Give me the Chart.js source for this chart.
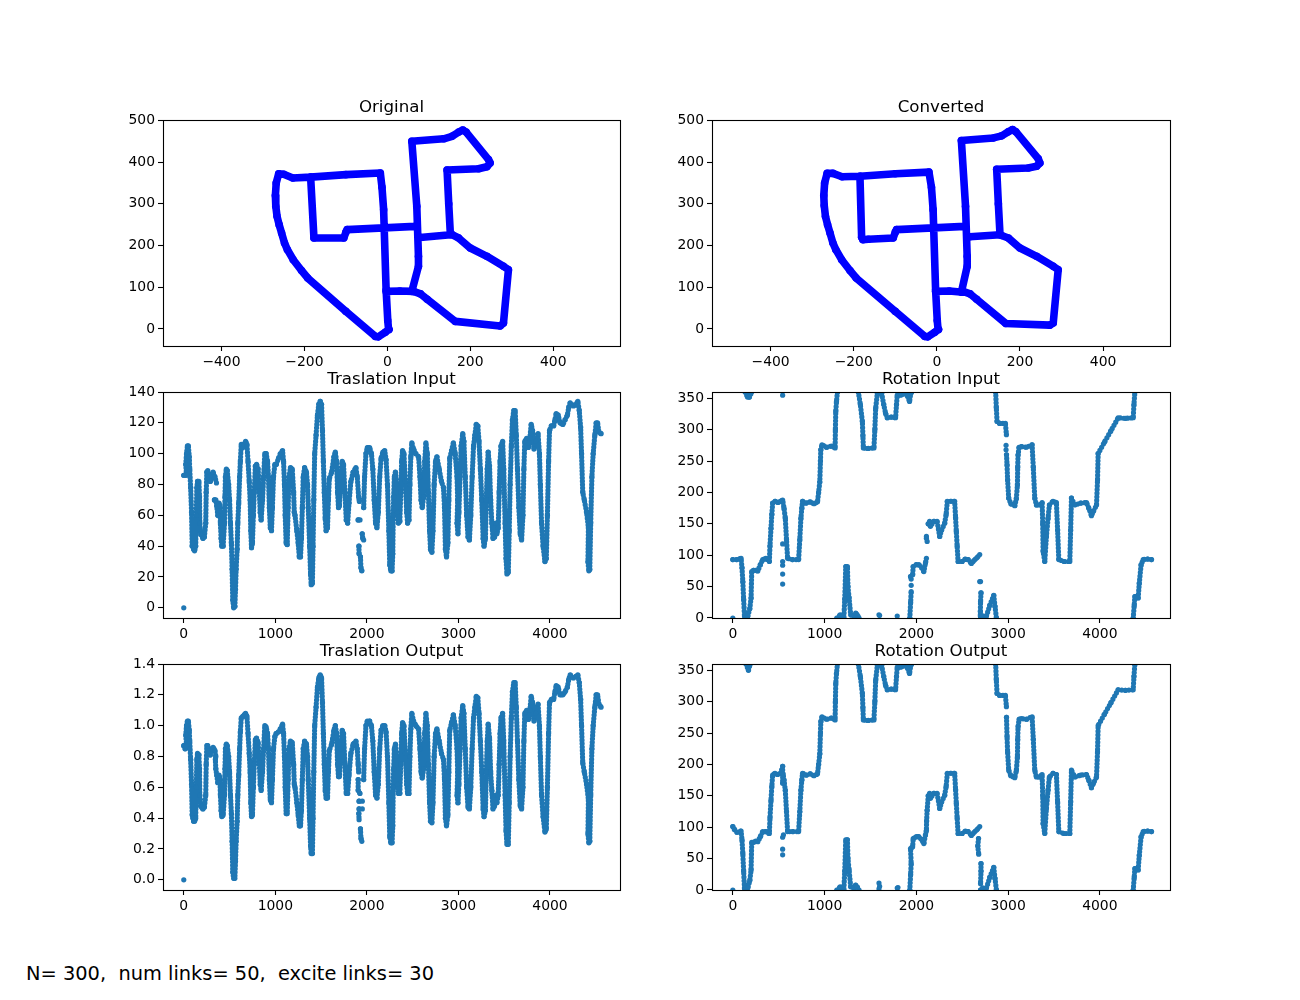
<!DOCTYPE html>
<html>
<head>
<meta charset="utf-8">
<title>Path and commands</title>
<script src="https://cdn.jsdelivr.net/npm/chart.js@4"></script>
<style>
    body { margin: 0; background: #fff; }
    canvas { position: absolute; }
    #note { position: absolute; left: 26px; top: 962px; font: 19.4px "DejaVu Sans"; white-space: pre; color: #000; }
</style>
</head>
<body>
<div id="note">N= 300,  num links= 50,  excite links= 30</div>
<script>
var pathTicksX = [-400, -200, 0, 200, 400];
var pathTicksY = [0, 100, 200, 300, 400, 500];
var timeTicks = [0, 1000, 2000, 3000, 4000];
var inputTicks = [0, 20, 40, 60, 80, 100, 120, 140];
var outputTicks = [0, 0.2, 0.4, 0.6, 0.8, 1.0, 1.2, 1.4];
var angleTicks = [0, 50, 100, 150, 200, 250, 300, 350];

var originalX = [3, 1, -3, -9, -13, -17, -100, -185, -228, -250, -262, -268, -270, -269, -266, -261, -255, -248, -241, -227, -207, -192, -100, -29, -22, -5, 4, null,
    -3, 30, 63, 59, 75, 75, 71, 59, 136, 156, 172, 182, 190, 244, 248, 240, 220, 144, 148, 152, 79, null,
    156, 172, 200, 240, 280, 292, 280, 272, 164, 96, 80, 63, null,
    67, -97, -100, -105, -177, -185];
var originalY = [-2, 20, 94, 286, 340, 374, 370, 364, 362, 371, 372, 350, 320, 294, 270, 250, 230, 206, 190, 166, 140, 122, 42, -18, -19, -8, -1, null,
    90, 91, 90, 90, 150, 174, 294, 450, 456, 462, 472, 477, 472, 406, 398, 389, 384, 381, 300, 226, 219, null,
    226, 218, 194, 174, 150, 142, 14, 7, 18, 71, 84, 90, null,
    246, 238, 232, 218, 218, 364];

var convertedX = [3, 1, -3, -9, -13, -19, -100, -185, -228, -250, -264, -270, -272, -271, -268, -263, -257, -250, -243, -229, -209, -194, -100, -29, -22, -5, 4, null,
    -3, 30, 63, 59, 73, 73, 69, 59, 136, 156, 172, 182, 190, 244, 248, 240, 220, 144, 148, 152, 79, null,
    156, 172, 200, 240, 280, 292, 280, 272, 166, 96, 80, 63, null,
    67, -97, -100, -105, -165, -178, -181, -185];
var convertedY = [-2, 20, 94, 286, 340, 376, 372, 366, 365, 373, 373, 350, 320, 296, 270, 250, 230, 206, 190, 166, 140, 122, 42, -18, -19, -8, -1, null,
    90, 91, 88, 88, 150, 174, 294, 452, 458, 463, 473, 478, 473, 408, 398, 390, 386, 383, 300, 226, 221, null,
    224, 218, 194, 174, 150, 142, 14, 9, 13, 71, 84, 90, null,
    246, 238, 232, 218, 215, 214, 220, 366];

var trasInX = [0, 0,
    0, 15, 30, 22, 30, 40, 50, 60, 65, 75, 85, 92, 100, 108, 118, 130, 137, 143, 150, 165,
    172, 175, 185, 195, 210, 225, 240, 245, 252, 262, 275, 290, 305, 320, 340, 357, 357,
    335, 350, 360, 372, 385, 395, 400, 408, 415, 430, 445, 450, 455, 465, 475, 490, 500, 510, 520, 528,
    535, 545, 558, 565, 572, 583, 590, 600, 610, 618, 628, 645, 660, 675, 690, 702, 715, 725, 732, 740,
    750, 760, 770, 782, 795, 812, 825, 835, 845, 860, 872, 885, 900, 915, 925, 935, 945, 958, 968, 980,
    995, 1010, 1035, 1055, 1079, 1090, 1100, 1108, 1118, 1130, 1140, 1150, 1165, 1185, 1200, 1207, 1215, 1235, 1250, 1262,
    1275, 1285, 1295, 1305, 1320, 1340, 1352, 1360, 1375, 1385, 1392, 1405, 1412, 1420, 1430, 1445, 1460, 1475, 1490, 1505,
    1515, 1525, 1535, 1545, 1555, 1570, 1580, 1590, 1615, 1640, 1655, 1670, 1680, 1690, 1700, 1715, 1730, 1745, 1760, 1775,
    1790, 1805, 1825, 1850, 1880, 1895, 1910, 1918, 1918,
    1905, 1925, 1925,
    1949, 1955, 1965, 1965,
    1913, 1915, 1915,
    1930, 1935, 1945, 1945,
    1965, 1975, 1990, 2005, 2030, 2050, 2065, 2080, 2095, 2110, 2125, 2140, 2155, 2175, 2195, 2210, 2225, 2240, 2250, 2262,
    2275, 2283, 2288, 2293, 2300, 2312, 2325, 2335, 2345, 2360, 2370, 2380, 2390, 2405, 2420, 2435, 2445, 2460, 2470, 2480,
    2491, 2510, 2535, 2565, 2580, 2592, 2605, 2620, 2632, 2645, 2660, 2672, 2685, 2695, 2710, 2722, 2735, 2750, 2765, 2790,
    2815, 2837, 2848, 2858, 2870, 2885, 2895, 2905, 2925, 2945, 2965, 2985, 2992, 2985, 2995, 3005, 3018, 3030, 3047, 3060,
    3075, 3090, 3105, 3120, 3135, 3150, 3165, 3180, 3195, 3212, 3225, 3240, 3255, 3270, 3280, 3295, 3305, 3315, 3325, 3340,
    3352, 3365, 3378, 3395, 3410, 3420, 3435, 3445, 3455, 3465, 3483, 3495, 3510, 3520, 3530, 3545, 3555, 3565, 3578, 3590,
    3605, 3620, 3632, 3645, 3660, 3675, 3690, 3705, 3715, 3725, 3745, 3765, 3780, 3795, 3810, 3825, 3845, 3870, 3885, 3895,
    3908, 3925, 3945, 3960, 3972, 3985, 3995, 4015, 4040, 4055, 4068, 4090, 4110, 4141, 4165, 4190, 4205, 4221, 4257, 4285,
    4304, 4320, 4335, 4345, 4358, 4375, 4400, 4420, 4415, 4425, 4435, 4445, 4458, 4472, 4490, 4505, 4520, 4535, 4558];
var trasInY = [0, null,
    86, 86, 86, 93, 100, 105, 105, 98, 90, 78, 62, 40, 42, 38, 37, 40, 60, 78, 82, 82,
    72, 55, 48, 47, 45, 46, 55, 75, 88, 89, 84, 82, 86, 88, 85, 81, null,
    70, 70, 66, 60, 68, 66, 55, 45, 40, 40, 55, 72, 85, 90, 89, 80, 70, 55, 42, 25,
    5, 0, 1, 12, 25, 38, 55, 68, 85, 95, 106, 104, 106, 108, 106, 95, 82, 70, 50, 39,
    42, 60, 75, 92, 93, 90, 76, 62, 57, 70, 85, 100, 100, 95, 85, 65, 52, 50, 65, 85,
    93, 93, 97, 100, 102, 95, 80, 60, 42, 41, 65, 85, 91, 90, 75, 62, 60, 50, 42, 33,
    33, 45, 65, 85, 91, 88, 80, 65, 40, 22, 15, 16, 40, 70, 100, 112, 125, 132, 134, 132,
    115, 95, 75, 58, 50, 52, 70, 84, 88, 98, 101, 95, 75, 65, 66, 85, 95, 93, 75, 57,
    55, 68, 82, 88, 91, 85, 72, 69, null,
    57, 57, null,
    48, 45, 44, null,
    40, 35, null,
    33, 26, 24, null,
    65, 85, 100, 104, 104, 100, 90, 70, 55, 52, 62, 85, 97, 101, 102, 96, 80, 50, 28, 24,
    24, 35, 60, 72, 85, 88, 80, 62, 55, 56, 75, 95, 102, 100, 82, 62, 55, 57, 80, 98,
    107, 103, 100, 98, 85, 70, 65, 72, 95, 107, 100, 75, 50, 38, 36, 50, 80, 95, 98, 90,
    82, 78, 65, 38, 33, 42, 70, 97, 102, 107, 100, 85, 70, 55, 48, 62, 85, 105, 113, 108,
    85, 60, 46, 44, 60, 85, 105, 112, 119, 118, 108, 90, 70, 45, 40, 45, 70, 90, 101, 92,
    70, 55, 45, 46, 55, 48, 52, 75, 95, 105, 108, 90, 55, 32, 22, 23, 50, 80, 105, 122,
    128, 128, 112, 90, 65, 48, 44, 60, 90, 108, 110, 104, 110, 119, 115, 103, 108, 113, 100, 80,
    55, 40, 30, 32, 60, 95, 115, 118, 118, 122, 126, 125, 120, 119, 122, 125, 130, 133, 131, 132,
    134, 128, 117, 100, 75, 70, 62, 52, 30, 24, 25, 55, 85, 100, 112, 120, 120, 114, 113];

var trasOutX = [0, 0,
    0, 15, 30, 22, 30, 40, 50, 60, 65, 75, 85, 92, 100, 108, 118, 130, 137, 143, 150, 165,
    172, 175, 185, 195, 210, 225, 240, 245, 252, 262, 275, 290, 305, 320, 340, 350,
    345, 350, 360, 372, 385, 395, 400, 408, 415, 430, 445, 450, 455, 465, 475, 490, 500, 510, 520, 528,
    535, 545, 558, 565, 572, 583, 590, 600, 610, 618, 628, 645, 660, 675, 690, 702, 715, 725, 732, 740,
    750, 760, 770, 782, 795, 812, 825, 835, 845, 860, 872, 885, 900, 915, 925, 935, 945, 958, 968, 980,
    995, 1010, 1035, 1055, 1079, 1090, 1100, 1108, 1118, 1130, 1140, 1150, 1165, 1185, 1200, 1207, 1215, 1235, 1250, 1262,
    1275, 1285, 1295, 1305, 1320, 1340, 1352, 1360, 1375, 1385, 1392, 1405, 1412, 1420, 1430, 1445, 1460, 1475, 1490, 1505,
    1515, 1525, 1535, 1545, 1555, 1570, 1580, 1590, 1615, 1640, 1655, 1670, 1680, 1690, 1700, 1715, 1730, 1745, 1760, 1775,
    1790, 1805, 1825, 1850, 1880, 1895, 1905, 1910, 1910,
    1905, 1905, 1925, 1925,
    1915, 1950, 1950,
    1915, 1950, 1950,
    1912, 1915, 1915,
    1930, 1935, 1945, 1945,
    1965, 1975, 1990, 2005, 2030, 2050, 2065, 2080, 2095, 2110, 2125, 2140, 2155, 2175, 2195, 2210, 2225, 2240, 2250, 2262,
    2275, 2283, 2288, 2293, 2300, 2312, 2325, 2335, 2345, 2360, 2370, 2380, 2390, 2405, 2420, 2435, 2445, 2460, 2470, 2480,
    2491, 2510, 2535, 2565, 2580, 2592, 2605, 2620, 2632, 2645, 2660, 2672, 2685, 2695, 2710, 2722, 2735, 2750, 2765, 2790,
    2815, 2837, 2848, 2858, 2870, 2885, 2895, 2905, 2925, 2945, 2965, 2985, 2992, 2985, 2995, 3005, 3018, 3030, 3047, 3060,
    3075, 3090, 3105, 3120, 3135, 3150, 3165, 3180, 3195, 3212, 3225, 3240, 3255, 3270, 3280, 3295, 3305, 3315, 3325, 3340,
    3352, 3365, 3378, 3395, 3410, 3420, 3435, 3445, 3455, 3465, 3483, 3495, 3510, 3520, 3530, 3545, 3555, 3565, 3578, 3590,
    3605, 3620, 3632, 3645, 3660, 3675, 3690, 3705, 3715, 3725, 3745, 3765, 3780, 3795, 3810, 3825, 3845, 3870, 3885, 3895,
    3908, 3925, 3945, 3960, 3972, 3985, 3995, 4015, 4040, 4055, 4068, 4090, 4110, 4141, 4165, 4190, 4205, 4221, 4257, 4285,
    4304, 4320, 4335, 4345, 4358, 4375, 4400, 4420, 4415, 4425, 4435, 4445, 4458, 4472, 4490, 4505, 4520, 4535, 4558];
var trasOutY = [0, null,
    0.87, 0.85, 0.87, 0.94, 1.0, 1.03, 1.03, 0.97, 0.9, 0.78, 0.62, 0.42, 0.4, 0.38, 0.38, 0.4, 0.6, 0.78, 0.82, 0.81,
    0.72, 0.55, 0.48, 0.47, 0.46, 0.47, 0.55, 0.75, 0.87, 0.87, 0.82, 0.81, 0.85, 0.86, 0.84, 0.8,
    0.78, 0.72, 0.68, 0.63, 0.68, 0.66, 0.55, 0.45, 0.41, 0.42, 0.55, 0.72, 0.85, 0.88, 0.87, 0.8, 0.7, 0.55, 0.43, 0.25,
    0.05, 0.01, 0.01, 0.12, 0.25, 0.38, 0.55, 0.68, 0.85, 0.96, 1.05, 1.06, 1.07, 1.08, 1.06, 0.95, 0.82, 0.7, 0.5, 0.41,
    0.42, 0.6, 0.75, 0.91, 0.92, 0.89, 0.76, 0.62, 0.58, 0.7, 0.85, 1.0, 0.99, 0.95, 0.85, 0.65, 0.52, 0.5, 0.65, 0.85,
    0.93, 0.95, 0.96, 0.98, 1.01, 0.95, 0.8, 0.6, 0.43, 0.43, 0.65, 0.85, 0.9, 0.89, 0.75, 0.62, 0.6, 0.5, 0.42, 0.35,
    0.35, 0.45, 0.65, 0.85, 0.9, 0.88, 0.8, 0.65, 0.4, 0.22, 0.17, 0.17, 0.4, 0.7, 1.0, 1.12, 1.25, 1.31, 1.33, 1.31,
    1.15, 0.95, 0.75, 0.58, 0.53, 0.53, 0.7, 0.84, 0.88, 0.97, 1.0, 0.95, 0.75, 0.67, 0.67, 0.85, 0.97, 0.95, 0.75, 0.56,
    0.56, 0.68, 0.82, 0.88, 0.9, 0.85, 0.75, 0.7, null,
    0.65, 0.58, 0.56, null,
    0.51, 0.51, null,
    0.46, 0.46, null,
    0.43, 0.39, null,
    0.33, 0.27, 0.25, null,
    0.65, 0.85, 1.0, 1.03, 1.03, 1.0, 0.9, 0.7, 0.55, 0.53, 0.62, 0.85, 0.97, 1.0, 1.0, 0.96, 0.8, 0.5, 0.28, 0.24,
    0.24, 0.35, 0.6, 0.72, 0.85, 0.88, 0.8, 0.62, 0.56, 0.56, 0.75, 0.95, 1.02, 1.0, 0.82, 0.62, 0.56, 0.56, 0.8, 0.98,
    1.08, 1.03, 1.0, 0.98, 0.85, 0.7, 0.66, 0.72, 0.95, 1.08, 1.0, 0.75, 0.5, 0.38, 0.37, 0.5, 0.8, 0.95, 0.98, 0.9,
    0.82, 0.78, 0.65, 0.4, 0.35, 0.42, 0.7, 0.97, 1.02, 1.07, 1.0, 0.85, 0.7, 0.55, 0.5, 0.62, 0.85, 1.05, 1.13, 1.08,
    0.85, 0.6, 0.47, 0.46, 0.6, 0.85, 1.05, 1.12, 1.19, 1.18, 1.08, 0.9, 0.7, 0.46, 0.41, 0.45, 0.7, 0.9, 1.01, 0.92,
    0.7, 0.58, 0.46, 0.48, 0.55, 0.5, 0.55, 0.75, 0.95, 1.05, 1.08, 0.9, 0.55, 0.32, 0.23, 0.23, 0.5, 0.8, 1.05, 1.22,
    1.28, 1.28, 1.12, 0.9, 0.65, 0.48, 0.46, 0.6, 0.9, 1.08, 1.1, 1.04, 1.1, 1.19, 1.15, 1.03, 1.08, 1.14, 1.0, 0.8,
    0.55, 0.41, 0.31, 0.33, 0.6, 0.95, 1.15, 1.17, 1.17, 1.22, 1.26, 1.25, 1.2, 1.2, 1.22, 1.25, 1.3, 1.33, 1.31, 1.32,
    1.33, 1.28, 1.17, 1.0, 0.76, 0.7, 0.62, 0.52, 0.3, 0.24, 0.25, 0.55, 0.85, 1.0, 1.12, 1.2, 1.2, 1.14, 1.12];

var rotInX = [0, 45, 90, 100, 109, 118, 127, 135, 150, 163, 185, 199, 206, 225, 250, 272, 300, 326, 360, 398,
    405, 416, 425, 434, 460, 489, 520, 543, 558, 572, 585, 597, 650, 717, 730, 742, 752, 760, 800, 845,
    885, 923, 935, 948, 955, 959, 972, 1020, 1080, 1115, 1118, 1122, 1130, 1140, 1140,
    135, 160, 181, 205, 205,
    1135, 1170, 1195, 1210, 1220, 1231, 1249, 1255, 1267, 1285, 1320, 1339, 1355, 1376, 1376,
    1368, 1390, 1412, 1418, 1423, 1470, 1538, 1548, 1557, 1575, 1610, 1622, 1645, 1665, 1683, 1730, 1774, 1784, 1792, 1830,
    1870, 1900, 1926, 1940, 1948, 1948,
    1929, 1938, 1944, 1944,
    1937, 1960, 1966, 2000, 2027, 2060, 2082, 2100, 2110, 2110,
    2130, 2145, 2154, 2190, 2226, 2255, 2275, 2309, 2325, 2338, 2380, 2418, 2428, 2436, 2445, 2455, 2500, 2535, 2564, 2600,
    2630, 2660, 2691, 2691,
    2705, 2700, 2698, 2698, 2698,
    2700, 2720, 2764, 2800, 2844, 2858, 2873, 2873,
    2865, 2872, 2880, 2910, 2971, 2982, 2982,
    2983, 2989, 2995, 3007, 3030, 3073, 3090, 3102, 3105, 3109, 3120, 3145, 3200, 3262, 3275, 3291, 3309, 3345, 3371, 3378,
    3382, 3400, 3418, 3436, 3450, 3490, 3527, 3540, 3553, 3610, 3673, 3682, 3691, 3727, 3790, 3855, 3880, 3909, 3930, 3964,
    3975, 3982, 4050, 4120, 4200, 4280, 4364, 4372, 4382, 4382,
    4364, 4375, 4382, 4418, 4430, 4450, 4473, 4520, 4564];
var rotInY = [93, 93, 95, 80, 58, 30, 3, 0, 1, 3, 15, 32, 74, 76, 76, 75, 85, 93, 95, 90,
    115, 143, 165, 183, 186, 184, 186, 188, 175, 159, 125, 95, 93, 93, 125, 159, 175, 186, 183, 185,
    182, 185, 200, 217, 250, 268, 276, 272, 274, 271, 300, 329, 345, 360, null,
    360, 352, 352, 360, null,
    0, 5, 3, 0, 30, 82, 82, 50, 32, 5, 3, 8, 5, 0, null,
    360, 340, 313, 290, 271, 270, 271, 300, 334, 358, 358, 358, 340, 326, 319, 320, 319, 340, 355, 355,
    358, 355, 345, 358, 360, null,
    0, 25, 42, null,
    66, 69, 82, 85, 85, 80, 74, 88, 95, null,
    150, 154, 146, 154, 154, 130, 140, 151, 165, 186, 186, 186, 160, 138, 115, 90, 90, 94, 93, 87,
    92, 96, 101, null,
    40, 26, 10, 3, null,
    0, 3, 3, 20, 36, 18, 0, null,
    360, 335, 313, 310, 310, 292, null,
    260, 244, 220, 191, 182, 179, 190, 212, 240, 260, 272, 273, 272, 276, 240, 191, 180, 180, 184, 150,
    106, 90, 130, 159, 180, 186, 184, 140, 93, 90, 90, 140, 191, 180, 183, 184, 175, 163, 170, 180,
    220, 262, 280, 298, 319, 318, 319, 340, 360, null,
    0, 20, 34, 32, 55, 85, 93, 94, 93];
var rotInDotsX = [0, 543, 543, 543, 543, 543, 543, 1593, 1600, 1792, 1944, 1944, 2110, 2118, 2110, 2691, 2700, 2978, 2978];
var rotInDotsY = [0, 355, 118, 90, 84, 70, 54, 5, 4, 3, 52, 62, 127, 122, 130, 58, 58, 275, 268];

var rotOutX = [0, 15, 45, 90, 100, 109, 118, 127, 135, 150, 163, 185, 199, 206, 225, 250, 272, 300, 326, 360,
    398, 405, 416, 425, 434, 460, 489, 520, 543, 543, 548, 558, 572, 585, 597, 650, 717, 730, 742, 752,
    760, 800, 845, 885, 923, 935, 948, 955, 959, 972, 1020, 1080, 1115, 1118, 1122, 1130, 1140, 1140,
    145, 170, 190, 190,
    1135, 1170, 1195, 1210, 1220, 1231, 1249, 1255, 1267, 1285, 1320, 1339, 1355, 1376, 1376,
    1368, 1390, 1412, 1418, 1423, 1470, 1538, 1548, 1557, 1575, 1610, 1622, 1645, 1665, 1683, 1730, 1774, 1784, 1792, 1830,
    1870, 1900, 1926, 1940, 1948, 1948,
    1929, 1938, 1944, 1937, 1960, 1966, 2000, 2027, 2060, 2082, 2100, 2110, 2112, 2118, 2130, 2145, 2154, 2190, 2226, 2255,
    2275, 2309, 2325, 2338, 2380, 2418, 2428, 2436, 2445, 2455, 2500, 2535, 2564, 2600, 2630, 2660, 2691, 2691,
    2678, 2670, 2680, 2680,
    2705, 2705, 2700, 2700,
    2700, 2720, 2764, 2800, 2844, 2858, 2873, 2873,
    2865, 2872, 2880, 2910, 2971, 2982, 2982,
    2983, 2989, 2995, 3007, 3030, 3073, 3090, 3102, 3105, 3109, 3120, 3145, 3200, 3262, 3275, 3291, 3309, 3345, 3371, 3378,
    3382, 3400, 3418, 3436, 3450, 3490, 3527, 3540, 3553, 3610, 3673, 3682, 3691, 3727, 3790, 3855, 3880, 3909, 3930, 3964,
    3975, 3982, 4050, 4120, 4200, 4280, 4364, 4372, 4382, 4382,
    4364, 4375, 4382, 4418, 4430, 4450, 4473, 4520, 4564];
var rotOutY = [101, 97, 92, 94, 80, 58, 30, 3, 0, 1, 3, 15, 32, 76, 76, 78, 77, 85, 93, 93,
    90, 115, 143, 165, 183, 186, 184, 186, 197, 170, 185, 175, 159, 125, 93, 93, 93, 125, 159, 175,
    186, 183, 185, 182, 185, 200, 217, 250, 268, 276, 272, 274, 271, 300, 329, 345, 360, null,
    360, 350, 360, null,
    0, 5, 3, 0, 30, 80, 80, 50, 32, 5, 3, 8, 5, 0, null,
    360, 340, 313, 290, 271, 270, 271, 300, 334, 358, 358, 358, 340, 326, 319, 320, 319, 340, 355, 355,
    358, 355, 345, 358, 360, null,
    0, 25, 42, 66, 69, 82, 85, 85, 80, 74, 88, 95, 110, 127, 150, 154, 146, 154, 154, 130,
    140, 151, 165, 186, 186, 186, 160, 138, 115, 90, 90, 94, 93, 87, 92, 96, 101, null,
    82, 70, 57, null,
    42, 30, 10, null,
    0, 3, 3, 20, 36, 18, 0, null,
    360, 335, 313, 310, 310, 292, null,
    275, 244, 220, 191, 182, 179, 190, 212, 240, 260, 272, 273, 272, 276, 240, 191, 180, 180, 184, 150,
    106, 90, 130, 159, 180, 186, 184, 140, 93, 90, 90, 140, 191, 180, 183, 184, 175, 163, 170, 180,
    220, 262, 280, 298, 319, 318, 319, 340, 360, null,
    0, 20, 34, 32, 55, 85, 93, 94, 93];
var rotOutDotsX = [0, 543, 552, 543, 543, 1593, 1593, 1600, 1792, 1800];
var rotOutDotsY = [0, 84, 88, 65, 56, 2, 11, 6, 3, 4];

var frame = {
    id: 'frame',
    afterDatasetsDraw: function (chart) {
        var a = chart.chartArea;
        var c = chart.ctx;
        c.save();
        c.strokeStyle = '#000';
        c.lineWidth = 1.1;
        c.strokeRect(a.left + 0.5, a.top + 0.5, a.right - a.left, a.bottom - a.top);
        c.restore();
    }
};

function toPoints(xs, ys) {
    return xs.map(function (x, i) { return { x: x, y: ys[i] }; });
}

function axis(min, max, ticks, size, digits) {
    return {
        type: 'linear',
        min: min,
        max: max,
        afterFit: function (scale) {
            if (size.width) { scale.width = size.width; } else { scale.height = size.height; }
        },
        afterBuildTicks: function (scale) {
            scale.ticks = ticks.map(function (v) { return { value: v }; });
        },
        grid: { drawOnChartArea: false, color: '#000', tickColor: '#000', tickLength: 5, tickWidth: 1.1 },
        border: { display: false },
        ticks: {
            autoSkip: false,
            maxRotation: 0,
            color: '#000',
            padding: 3,
            font: { family: 'DejaVu Sans', size: 13.9 },
            callback: function (v) { return (digits ? v.toFixed(digits) : String(v)).replace('-', '\u2212'); }
        }
    };
}

function drawPanel(box, title, xRange, xTicks, yRange, yTicks, digits, sets) {
    var marginLeft = 60, marginRight = 20, marginTop = 30, marginBottom = 32;
    var canvas = document.createElement('canvas');
    canvas.width = box.w + marginLeft + marginRight;
    canvas.height = box.h + marginTop + marginBottom;
    canvas.style.left = (box.x - marginLeft) + 'px';
    canvas.style.top = (box.y - marginTop) + 'px';
    document.body.appendChild(canvas);

    return new Chart(canvas, {
        type: 'scatter',
        data: { datasets: sets },
        options: {
            responsive: false,
            animation: false,
            devicePixelRatio: 1,
            layout: { padding: { left: 0, right: marginRight, top: 0, bottom: 0 } },
            plugins: {
                legend: { display: false },
                tooltip: { enabled: false },
                title: {
                    display: true,
                    fullSize: false,
                    text: title,
                    color: '#000',
                    font: { family: 'DejaVu Sans', size: 16.67, weight: 'normal', lineHeight: 1.2 },
                    padding: { top: 8, bottom: 2 }
                }
            },
            scales: {
                x: axis(xRange[0], xRange[1], xTicks, { height: marginBottom }),
                y: axis(yRange[0], yRange[1], yTicks, { width: marginLeft }, digits)
            }
        },
        plugins: [frame]
    });
}

function pathSet(xs, ys) {
    return {
        data: toPoints(xs, ys),
        showLine: true,
        clip: 0,
        borderColor: '#0000ff',
        backgroundColor: '#0000ff',
        borderWidth: 7.6,
        borderCapStyle: 'round',
        borderJoinStyle: 'round',
        pointRadius: 3.8,
        pointBorderWidth: 0
    };
}

function traceSet(xs, ys, width, gap) {
    return {
        data: toPoints(xs, ys),
        showLine: true,
        clip: 0,
        borderColor: '#1f77b4',
        backgroundColor: '#1f77b4',
        borderWidth: width,
        borderDash: [0, gap],
        borderCapStyle: 'round',
        borderJoinStyle: 'round',
        pointRadius: width / 2,
        pointBorderWidth: 0
    };
}

function dotSet(xs, ys) {
    return {
        data: toPoints(xs, ys),
        showLine: false,
        clip: 0,
        backgroundColor: '#1f77b4',
        pointRadius: 2.6,
        pointBorderWidth: 0
    };
}

var leftCol = 163, leftW = 457, rightCol = 712, rightW = 458, rowH = 226;
var rows = [120, 392, 664];
var pathXRange = [-541, 561];
var pathYRange = [-41, 501];
var timeRange = [-227, 4765];

drawPanel({ x: leftCol, y: rows[0], w: leftW, h: rowH }, 'Original', pathXRange, pathTicksX, pathYRange, pathTicksY, 0, [pathSet(originalX, originalY)]);
drawPanel({ x: rightCol, y: rows[0], w: rightW, h: rowH }, 'Converted', pathXRange, pathTicksX, pathYRange, pathTicksY, 0, [pathSet(convertedX, convertedY)]);
drawPanel({ x: leftCol, y: rows[1], w: leftW, h: rowH }, 'Traslation Input', timeRange, timeTicks, [-6.6, 140], inputTicks, 0, [traceSet(trasInX, trasInY, 5.2, 3.4)]);
drawPanel({ x: rightCol, y: rows[1], w: rightW, h: rowH }, 'Rotation Input', timeRange, timeTicks, [0, 360], angleTicks, 0, [traceSet(rotInX, rotInY, 5.2, 3.6), dotSet(rotInDotsX, rotInDotsY)]);
drawPanel({ x: leftCol, y: rows[2], w: leftW, h: rowH }, 'Traslation Output', timeRange, timeTicks, [-0.066, 1.4], outputTicks, 1, [traceSet(trasOutX, trasOutY, 5.2, 3.4)]);
drawPanel({ x: rightCol, y: rows[2], w: rightW, h: rowH }, 'Rotation Output', timeRange, timeTicks, [0, 360], angleTicks, 0, [traceSet(rotOutX, rotOutY, 5.2, 3.6), dotSet(rotOutDotsX, rotOutDotsY)]);
</script>
</body>
</html>
